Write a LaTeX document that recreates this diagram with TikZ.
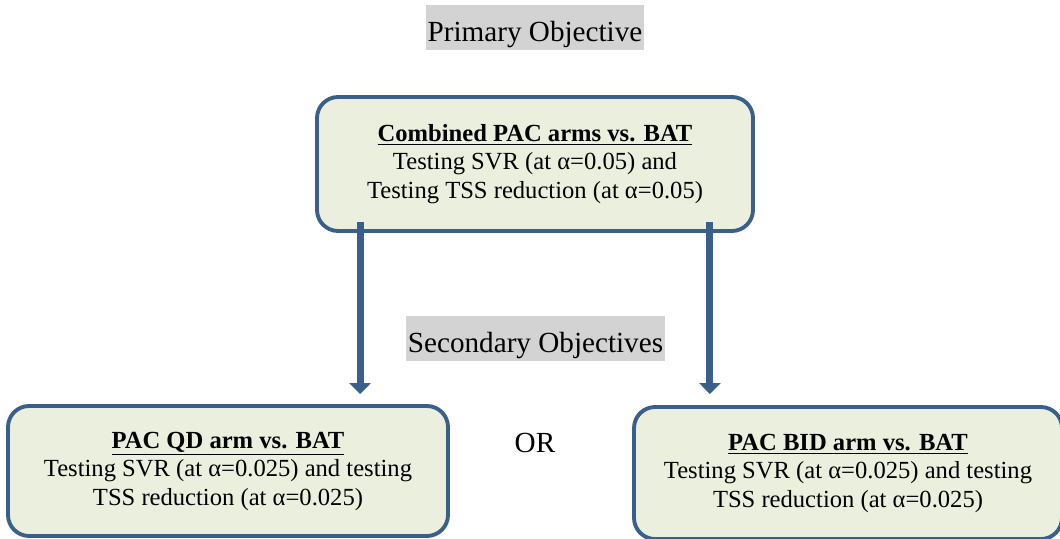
\documentclass[tikz,border=0pt]{standalone}
\usepackage{fontspec}
\setmainfont{Liberation Serif}
\usetikzlibrary{arrows.meta, positioning}

\definecolor{frameblue}{RGB}{58,95,138}
\definecolor{boxfill}{RGB}{235,239,222}
\definecolor{tagfill}{RGB}{211,211,211}

\begin{document}
\begin{tikzpicture}[
  box/.style={draw=frameblue, fill=boxfill, line width=2.2pt, rounded corners=12pt,
              align=center, inner sep=0pt, font=\fontsize{14}{16.2}\selectfont},
  tag/.style={fill=tagfill, inner xsep=1pt, inner ysep=0pt, text height=0.73cm,
              text depth=0.17cm, font=\fontsize{16.6}{19}\selectfont},
  arr/.style={-{Triangle[width=0.42cm,length=0.22cm]}, line width=0.14cm, draw=frameblue}
]
  \clip (0,0) rectangle (21.2,10.76);

  \node[box, minimum width=8.72cm, minimum height=2.68cm] (combo) at (10.7,7.48)
    {\underline{\textbf{Combined PAC arms vs. BAT}}\\
     Testing SVR (at α=0.05) and\\
     Testing TSS reduction (at α=0.05)};
  \node[tag, above=0.89cm of combo] (prim) {Primary Objective};

  \node[box, minimum width=8.8cm, minimum height=2.6cm] (qd) at (4.56,1.34)
    {\underline{\textbf{PAC QD arm vs. BAT}}\\
     Testing SVR (at α=0.025) and testing\\
     TSS reduction (at α=0.025)};
  \node[box, minimum width=8.56cm, minimum height=2.64cm] (bid) at (16.96,1.30)
    {\underline{\textbf{PAC BID arm vs. BAT}}\\
     Testing SVR (at α=0.025) and testing\\
     TSS reduction (at α=0.025)};

  \node[tag] (sec) at (10.71,4.0) {Secondary Objectives};
  \node[font=\fontsize{16.6}{19}\selectfont] (or) at (10.7,1.9) {OR};

  % arrows leave from inside the bottom edge of the top box
  \coordinate (lstart) at ([xshift=0.9cm,yshift=0.22cm]combo.south west);
  \coordinate (rstart) at ([xshift=-0.9cm,yshift=0.22cm]combo.south east);
  \draw[arr, shorten >=0.2cm] (lstart) -- (lstart |- qd.north);
  \draw[arr, shorten >=0.2cm] (rstart) -- (rstart |- qd.north);
\end{tikzpicture}
\end{document}
